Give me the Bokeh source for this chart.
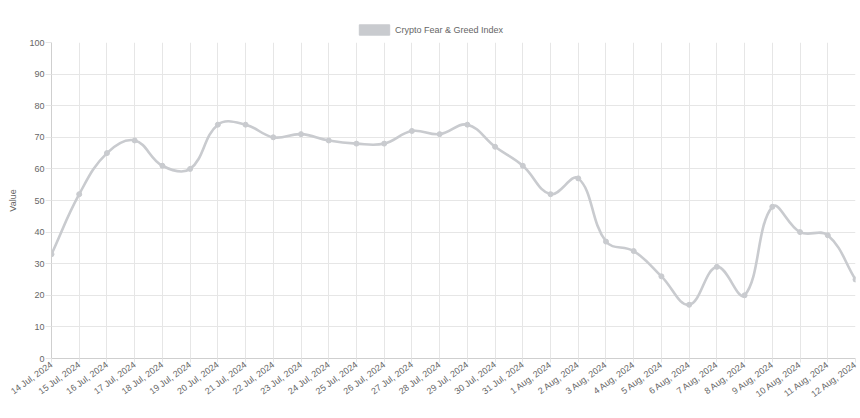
import math
from bokeh.plotting import figure
from bokeh.layouts import column
from bokeh.models import (ColumnDataSource, FixedTicker, Range1d, Legend, LegendItem)
from bokeh.embed import file_html
from bokeh.resources import INLINE

dates = ["14 Jul, 2024", "15 Jul, 2024", "16 Jul, 2024", "17 Jul, 2024", "18 Jul, 2024",
         "19 Jul, 2024", "20 Jul, 2024", "21 Jul, 2024", "22 Jul, 2024", "23 Jul, 2024",
         "24 Jul, 2024", "25 Jul, 2024", "26 Jul, 2024", "27 Jul, 2024", "28 Jul, 2024",
         "29 Jul, 2024", "30 Jul, 2024", "31 Jul, 2024", "1 Aug, 2024", "2 Aug, 2024",
         "3 Aug, 2024", "4 Aug, 2024", "5 Aug, 2024", "6 Aug, 2024", "7 Aug, 2024",
         "8 Aug, 2024", "9 Aug, 2024", "10 Aug, 2024", "11 Aug, 2024", "12 Aug, 2024"]
values = [33, 52, 65, 69, 61, 60, 74, 74, 70, 71, 69, 68, 68, 72, 71, 74, 67, 61, 52, 57,
          37, 34, 26, 17, 29, 20, 48, 40, 39, 25]
y_ticks = [0, 10, 20, 30, 40, 50, 60, 70, 80, 90, 100]
series_name = "Crypto Fear & Greed Index"

LINE = "#c9cbcf"
TXT = "#666666"
GRID = "#e6e6e6"
FONT = "Liberation Sans"
FS = "9px"

W = 858
LEG_H = 36
H = 380
ML, MR, MT, MB = 51, 3, 6, 58
pw = W - ML - MR
ph = H - MT - MB
n = len(values)
xs = list(range(n))
sx = pw / (n - 1)
sy = ph / 100.0

# Chart.js-style cubic spline (tension 0.4), computed in pixel space
px = [x * sx for x in xs]
py = [v * sy for v in values]
t = 0.4
prev_cp, next_cp = [], []
for i in range(n):
    a = max(i - 1, 0)
    b = min(i + 1, n - 1)
    d01 = math.hypot(px[i] - px[a], py[i] - py[a])
    d12 = math.hypot(px[b] - px[i], py[b] - py[i])
    tot = d01 + d12
    s01 = d01 / tot if tot else 0
    s12 = d12 / tot if tot else 0
    fa, fb = t * s01, t * s12
    pcx = px[i] - fa * (px[b] - px[a]); pcy = py[i] - fa * (py[b] - py[a])
    ncx = px[i] + fb * (px[b] - px[a]); ncy = py[i] + fb * (py[b] - py[a])
    pcy = min(max(pcy, 0), ph); ncy = min(max(ncy, 0), ph)
    pcx = min(max(pcx, 0), pw); ncx = min(max(ncx, 0), pw)
    prev_cp.append((pcx / sx, pcy / sy))
    next_cp.append((ncx / sx, ncy / sy))

bz = ColumnDataSource(dict(
    x0=xs[:-1], y0=values[:-1], x1=xs[1:], y1=values[1:],
    cx0=[next_cp[i][0] for i in range(n - 1)], cy0=[next_cp[i][1] for i in range(n - 1)],
    cx1=[prev_cp[i + 1][0] for i in range(n - 1)], cy1=[prev_cp[i + 1][1] for i in range(n - 1)],
))

p = figure(width=W, height=H, output_backend="svg", toolbar_location=None,
           x_range=Range1d(0, n - 1), y_range=Range1d(0, 100),
           min_border_left=ML, min_border_right=MR, min_border_top=MT, min_border_bottom=MB)
p.outline_line_color = None
p.background_fill_color = "white"
p.border_fill_color = "white"

p.bezier(x0="x0", y0="y0", x1="x1", y1="y1", cx0="cx0", cy0="cy0", cx1="cx1", cy1="cy1",
         source=bz, line_color=LINE, line_width=2.6)
p.scatter(xs, values, size=5, fill_color=LINE, line_color=LINE)

# axes
p.xaxis.ticker = FixedTicker(ticks=xs)
p.xaxis.major_label_overrides = {i: d for i, d in enumerate(dates)}
p.xaxis.major_label_orientation = 0.63
p.xaxis.major_label_text_font = FONT
p.xaxis.major_label_text_font_size = FS
p.xaxis.major_label_text_color = TXT
p.xaxis.major_tick_out = 4
p.xaxis.major_tick_in = 0
p.xaxis.major_tick_line_color = GRID
p.xaxis.minor_tick_line_color = None
p.xaxis.axis_line_color = "#cfcfcf"
p.xaxis.major_label_standoff = 1

p.yaxis.ticker = FixedTicker(ticks=y_ticks)
p.yaxis.major_label_text_font = FONT
p.yaxis.major_label_text_font_size = FS
p.yaxis.major_label_text_color = TXT
p.yaxis.major_tick_out = 6
p.yaxis.major_tick_in = 0
p.yaxis.major_tick_line_color = GRID
p.yaxis.minor_tick_line_color = None
p.yaxis.axis_line_color = "#cfcfcf"
p.yaxis.major_label_standoff = 1
p.yaxis.axis_label = "Value"
p.yaxis.axis_label_text_font = FONT
p.yaxis.axis_label_text_font_size = FS
p.yaxis.axis_label_text_font_style = "normal"
p.yaxis.axis_label_text_color = TXT
p.yaxis.axis_label_standoff = 8

p.xgrid.ticker = FixedTicker(ticks=xs)
p.ygrid.ticker = FixedTicker(ticks=y_ticks)
p.grid.grid_line_color = GRID
p.grid.grid_line_width = 1

# legend strip above the chart
lf = figure(width=W, height=LEG_H, output_backend="svg", toolbar_location=None,
            x_range=Range1d(0, 1), y_range=Range1d(0, 1),
            x_axis_location=None, y_axis_location=None, min_border=0)
lf.outline_line_color = None
lf.grid.visible = False
leg_src = ColumnDataSource(dict(l=[2], r=[3], t=[2], b=[3]))
leg_r = lf.quad(left="l", right="r", top="t", bottom="b", source=leg_src,
                fill_color=LINE, line_color=LINE)
legend = Legend(items=[LegendItem(label=series_name, renderers=[leg_r])],
                orientation="horizontal", location=(304, 0),
                glyph_width=38, glyph_height=13, label_height=13, label_standoff=2,
                padding=0, margin=0, border_line_color=None, background_fill_alpha=0,
                label_text_font=FONT, label_text_font_size=FS, label_text_color=TXT)
lf.add_layout(legend, "center")

layout = column(lf, p, spacing=0)
open("out.html", "w").write(file_html(layout, INLINE))
